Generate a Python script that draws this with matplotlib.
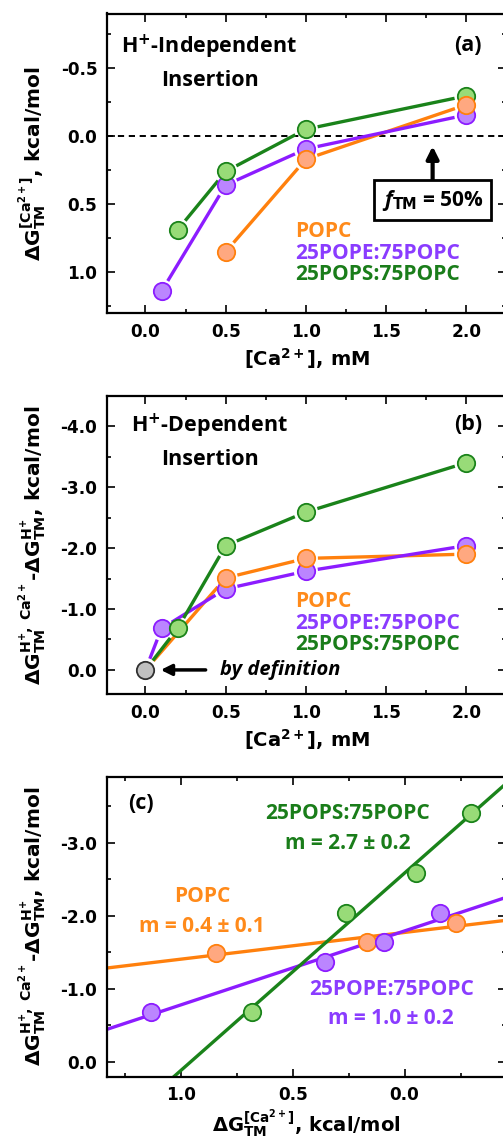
import numpy as np
import matplotlib
matplotlib.use('Agg')
import matplotlib.pyplot as plt
from matplotlib.ticker import MultipleLocator, FormatStrFormatter

# lipid compositions
names = ['POPC', '25POPE:75POPC', '25POPS:75POPC']

# [Ca2+] in mM for each composition
ca_popc = [0.5, 1.0, 2.0]
ca_pope = [0.1, 0.5, 1.0, 2.0]
ca_pops = [0.2, 0.5, 1.0, 2.0]

# (a) H+-independent insertion free energy, kcal/mol
dg_ca_popc = [0.85, 0.17, -0.23]
dg_ca_pope = [1.14, 0.36, 0.095, -0.155]
dg_ca_pops = [0.69, 0.26, -0.05, -0.295]

# (b) H+-dependent insertion free energy difference, kcal/mol (0 at no Ca2+)
dg_h_popc = [-1.51, -1.83, -1.90]
dg_h_pope = [-0.68, -1.33, -1.62, -2.04]
dg_h_pops = [-0.68, -2.04, -2.59, -3.40]

# (c) correlation between the two free energies
c_x_popc = [0.842, 0.168, -0.231]
c_y_popc = [-1.49, -1.64, -1.90]
c_x_pope = [1.132, 0.354, 0.091, -0.159]
c_y_pope = [-0.685, -1.37, -1.64, -2.04]
c_x_pops = [0.681, 0.262, -0.051, -0.296]
c_y_pops = [-0.685, -2.04, -2.59, -3.41]
slope_text = ['m = 0.4 ± 0.1', 'm = 1.0 ± 0.2', 'm = 2.7 ± 0.2']

line_col = ['#ff800d', '#8c1cff', '#1a831a']
fill_col = ['#ffa880', '#bb85ff', '#98db78']
text_col = ['#ff8a1a', '#8a3cff', '#1a7d1a']

plt.rcParams['font.family'] = ['DejaVu Sans']
plt.rcParams['font.weight'] = 'bold'
plt.rcParams['axes.unicode_minus'] = False
plt.rcParams['mathtext.fontset'] = 'custom'
plt.rcParams['mathtext.rm'] = 'DejaVu Sans:bold'
plt.rcParams['mathtext.bf'] = 'DejaVu Sans:bold'
plt.rcParams['mathtext.it'] = 'Open Sans:italic:bold'

ANN = ['Open Sans', 'DejaVu Sans']
W, H = 503, 1143
fig = plt.figure(figsize=(W / 100, H / 100), dpi=100)

ax_a = fig.add_axes([107 / W, 1 - 313 / H, 399.4 / W, 299.5 / H])
ax_b = fig.add_axes([107 / W, 1 - 694.3 / H, 399.4 / W, 298.6 / H])
ax_c = fig.add_axes([107 / W, 1 - 1076.7 / H, 399.4 / W, 300 / H])


def style_axes(ax, xmaj, xmin, ymaj, ymin):
    for s in ax.spines.values():
        s.set_linewidth(1.6)
    ax.xaxis.set_major_locator(MultipleLocator(xmaj))
    ax.xaxis.set_minor_locator(MultipleLocator(xmin))
    ax.yaxis.set_major_locator(MultipleLocator(ymaj))
    ax.yaxis.set_minor_locator(MultipleLocator(ymin))
    ax.xaxis.set_major_formatter(FormatStrFormatter('%.1f'))
    ax.yaxis.set_major_formatter(FormatStrFormatter('%.1f'))
    ax.tick_params(which='both', direction='in', top=True, right=True, width=1.2)
    ax.tick_params(which='major', length=6, labelsize=12.2, pad=7)
    ax.tick_params(which='minor', length=3.2)


def gapped_line(ax, x, y, color, gap=12):
    # connect points with segments that stop short of each marker
    pts = ax.transData.transform(np.column_stack([x, y]))
    inv = ax.transData.inverted()
    for p0, p1 in zip(pts[:-1], pts[1:]):
        d = p1 - p0
        n = np.hypot(d[0], d[1])
        if n <= 2 * gap:
            continue
        u = d / n
        seg = inv.transform(np.array([p0 + u * gap, p1 - u * gap]))
        ax.plot(seg[:, 0], seg[:, 1], color=color, lw=2.4, solid_capstyle='butt', zorder=2)


def markers(ax, x, y, i, z=3):
    ax.plot(x, y, 'o', ms=12.5, mfc=fill_col[i], mec=line_col[i], mew=1.3, zorder=z)


ylab_a = r'$\mathrm{\Delta G}_{\mathrm{TM}}^{\mathrm{[Ca^{2+}]}}$, kcal/mol'
ylab_b = (r'$\mathrm{\Delta G}_{\mathrm{TM}}^{\mathrm{H^{+},\ Ca^{2+}}}$-'
          r'$\mathrm{\Delta G}_{\mathrm{TM}}^{\mathrm{H^{+}}}$, kcal/mol')
xlab_ca = r'[Ca$^{2+}$], mM'

# ---- (a) H+-independent insertion ----
ax = ax_a
ax.set_xlim(-0.24, 2.25)
ax.set_ylim(1.3, -0.9)
style_axes(ax, 0.5, 0.25, 0.5, 0.25)
ax.axhline(0, color='k', lw=1.4, ls=(0, (3.2, 2.4)), zorder=1)
series_a = [(ca_popc, dg_ca_popc), (ca_pope, dg_ca_pope), (ca_pops, dg_ca_pops)]
for i, (x, y) in enumerate(series_a):
    gapped_line(ax, x, y, line_col[i])
for z, i in enumerate([1, 2, 0]):
    markers(ax, series_a[i][0], series_a[i][1], i, z=3 + z)
ax.text(0.034, 0.889, r'H$^{+}$-Independent', transform=ax.transAxes, family=ANN,
        fontsize=15.5, weight='bold', va='center', ha='left')
ax.text(0.135, 0.775, 'Insertion', transform=ax.transAxes, family=ANN,
        fontsize=15.5, weight='bold', va='center', ha='left')
ax.text(0.903, 0.892, '(a)', transform=ax.transAxes, family=ANN,
        fontsize=15.5, weight='bold', va='center', ha='center')
for i, yy in enumerate([0.2715, 0.2, 0.13]):
    ax.text(0.47, yy, names[i], transform=ax.transAxes, family=ANN, color=text_col[i],
            fontsize=15, weight='bold', va='center', ha='left')
ax.annotate(r'$f_{\mathrm{TM}}$ = 50%', xy=(1.79, 0.075), xytext=(1.79, 0.47),
            family=ANN, fontsize=15, weight='bold', ha='center', va='center',
            bbox=dict(boxstyle='square,pad=0.35', fc='white', ec='k', lw=2),
            arrowprops=dict(arrowstyle='-|>', color='k', lw=3, mutation_scale=18,
                            shrinkA=0, shrinkB=0))
ax.set_xlabel(xlab_ca, fontsize=14, weight='bold', labelpad=4)
ax.set_ylabel(ylab_a, fontsize=14.5, weight='bold')
ax.yaxis.set_label_coords(-0.145, 0.5)

# ---- (b) H+-dependent insertion ----
ax = ax_b
ax.set_xlim(-0.24, 2.25)
ax.set_ylim(0.4, -4.5)
style_axes(ax, 0.5, 0.25, 1.0, 0.5)
series_b = [([0.0] + ca_popc, [0.0] + dg_h_popc),
            ([0.0] + ca_pope, [0.0] + dg_h_pope),
            ([0.0] + ca_pops, [0.0] + dg_h_pops)]
for i, (x, y) in enumerate(series_b):
    gapped_line(ax, x, y, line_col[i])
for z, i in enumerate([1, 2, 0]):
    markers(ax, series_b[i][0][1:], series_b[i][1][1:], i, z=3 + z)
ax.plot([0.0], [0.0], 'o', ms=12.5, mfc='#c0c0c0', mec='#303030', mew=1.3, zorder=6)
ax.annotate('', xy=(0.095, 0.0), xytext=(0.375, 0.0),
            arrowprops=dict(arrowstyle='-|>', color='k', lw=2.5, mutation_scale=16,
                            shrinkA=0, shrinkB=0))
ax.text(0.465, 0.0, 'by definition', family=ANN, style='italic', weight='bold',
        fontsize=14.5, va='center', ha='left')
ax.text(0.059, 0.9, r'H$^{+}$-Dependent', transform=ax.transAxes, family=ANN,
        fontsize=15.5, weight='bold', va='center', ha='left')
ax.text(0.135, 0.785, 'Insertion', transform=ax.transAxes, family=ANN,
        fontsize=15.5, weight='bold', va='center', ha='left')
ax.text(0.904, 0.902, '(b)', transform=ax.transAxes, family=ANN,
        fontsize=15.5, weight='bold', va='center', ha='center')
for i, yy in enumerate([0.31, 0.238, 0.168]):
    ax.text(0.47, yy, names[i], transform=ax.transAxes, family=ANN, color=text_col[i],
            fontsize=15, weight='bold', va='center', ha='left')
ax.set_xlabel(xlab_ca, fontsize=14, weight='bold', labelpad=4)
ax.set_ylabel(ylab_b, fontsize=14.5, weight='bold')
ax.yaxis.set_label_coords(-0.145, 0.5)

# ---- (c) correlation with linear fits ----
ax = ax_c
ax.set_xlim(1.33, -0.455)
ax.set_ylim(0.2, -3.9)
style_axes(ax, 0.5, 0.25, 1.0, 0.5)
series_c = [(c_x_popc, c_y_popc), (c_x_pope, c_y_pope), (c_x_pops, c_y_pops)]
xfit = np.array(ax.get_xlim())
for i, (x, y) in enumerate(series_c):
    m, b = np.polyfit(x, y, 1)
    ax.plot(xfit, m * xfit + b, color=line_col[i], lw=2.4, zorder=2)
for i, (x, y) in enumerate(series_c):
    markers(ax, x, y, i, z=3 + i)
ax.text(0.085, 0.912, '(c)', transform=ax.transAxes, family=ANN,
        fontsize=15.5, weight='bold', va='center', ha='center')
label_pos = [((0.238, 0.6), (0.237, 0.5)),
             ((0.713, 0.291), (0.711, 0.195)),
             ((0.603, 0.878), (0.602, 0.778))]
for i, (p_name, p_m) in enumerate(label_pos):
    ax.text(*p_name, names[i], transform=ax.transAxes, family=ANN, color=text_col[i],
            fontsize=15, weight='bold', va='center', ha='center')
    ax.text(*p_m, slope_text[i], transform=ax.transAxes, family=ANN, color=text_col[i],
            fontsize=15, weight='bold', va='center', ha='center')
ax.set_xlabel(r'$\mathrm{\Delta G}_{\mathrm{TM}}^{\mathrm{[Ca^{2+}]}}$, kcal/mol',
              fontsize=14, weight='bold', labelpad=2)
ax.set_ylabel(ylab_b, fontsize=14.5, weight='bold')
ax.yaxis.set_label_coords(-0.145, 0.5)

fig.savefig('out.png', dpi=100)
